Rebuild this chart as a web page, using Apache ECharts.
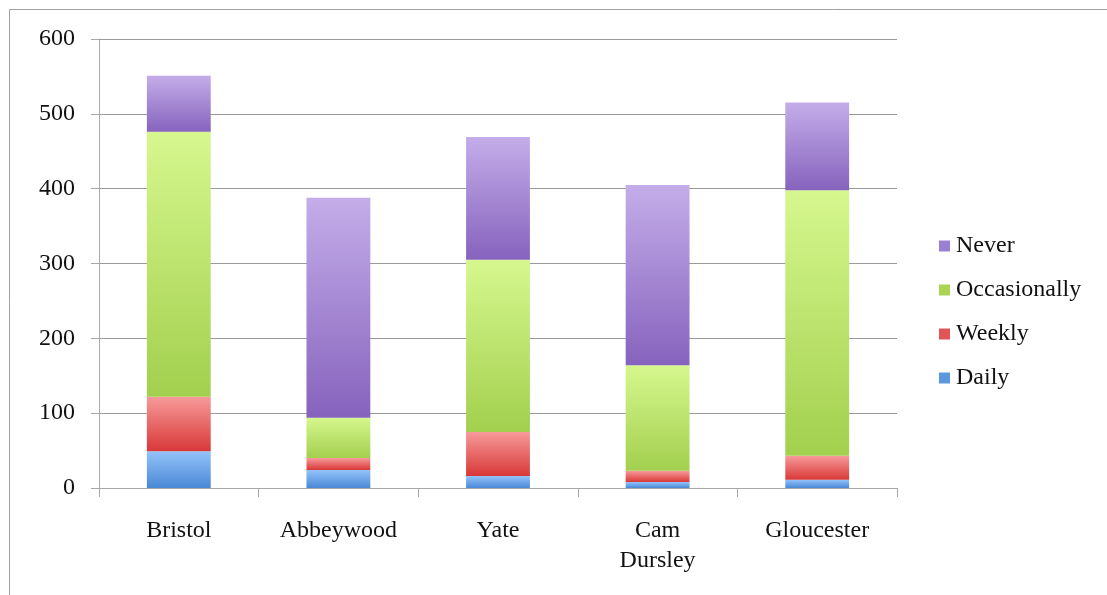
<!DOCTYPE html>
<html>
<head>
<meta charset="utf-8">
<script src="https://cdn.jsdelivr.net/npm/echarts@6/dist/echarts.min.js"></script>
<style>html,body{margin:0;padding:0;background:#fff;}#c{width:1107px;height:595px;}</style>
</head>
<body>
<div id="c"></div>
<script>
const categories = ['Bristol', 'Abbeywood', 'Yate', 'Cam\nDursley', 'Gloucester'];
const daily = [49, 24, 16, 8, 11];
const weekly = [73, 16, 59, 15, 32];
const occasionally = [354, 54, 230, 141, 355];
const never = [75, 294, 164, 241, 117];
const yTicks = [0, 100, 200, 300, 400, 500, 600];

function grad(top, bottom) {
  return new echarts.graphic.LinearGradient(0, 0, 0, 1, [
    { offset: 0, color: top }, { offset: 1, color: bottom }
  ]);
}
const serif = '"Liberation Serif", "DejaVu Serif", serif';
const chart = echarts.init(document.getElementById('c'));
const mk = (name, data, top, bottom) => ({
  name, type: 'bar', stack: 'total', data, barWidth: '40%',
  itemStyle: { color: grad(top, bottom) },
  emphasis: { disabled: true }
});
chart.setOption({
  animation: false,
  graphic: [{
    type: 'rect', shape: { x: 9.5, y: 9.5, width: 1120, height: 620 },
    style: { fill: 'none', stroke: '#a0a0a0', lineWidth: 1 }, z: -1
  }],
  grid: { left: 99, right: 210, top: 39, bottom: 107 },
  legend: {
    orient: 'vertical', left: 934, top: 229, itemWidth: 11, itemHeight: 11, itemGap: 20,
    data: [
      { name: 'Never', itemStyle: { color: '#9a80d2' } },
      { name: 'Occasionally', itemStyle: { color: '#a9d552' } },
      { name: 'Weekly', itemStyle: { color: '#e25557' } },
      { name: 'Daily', itemStyle: { color: '#5b98dd' } }
    ],
    textStyle: { fontFamily: serif, fontSize: 24, color: '#111', lineHeight: 24, padding: [0, 0, 0, 1] },
    icon: 'rect'
  },
  xAxis: {
    type: 'category', data: categories,
    axisLine: { lineStyle: { color: '#a8a8a8' } },
    axisTick: { show: true, alignWithLabel: false, length: 9, lineStyle: { color: '#a8a8a8' } },
    axisLabel: { fontFamily: serif, fontSize: 24, color: '#111', margin: 28, lineHeight: 30 }
  },
  yAxis: {
    type: 'value', min: 0, max: 600, interval: 100,
    axisLine: { show: true, lineStyle: { color: '#a8a8a8' } },
    axisTick: { show: true, length: 8, lineStyle: { color: '#a8a8a8' } },
    splitLine: { lineStyle: { color: '#9a9a9a' } },
    axisLabel: { fontFamily: serif, fontSize: 24, color: '#111', margin: 24,
      formatter: v => yTicks.includes(v) ? String(v) : '' }
  },
  series: [
    mk('Daily', daily, '#93c3fa', '#4a88d6'),
    mk('Weekly', weekly, '#f79a9a', '#d93838'),
    mk('Occasionally', occasionally, '#d6f78e', '#a2d04e'),
    mk('Never', never, '#c4ade9', '#8663bd')
  ]
});
</script>
</body>
</html>
